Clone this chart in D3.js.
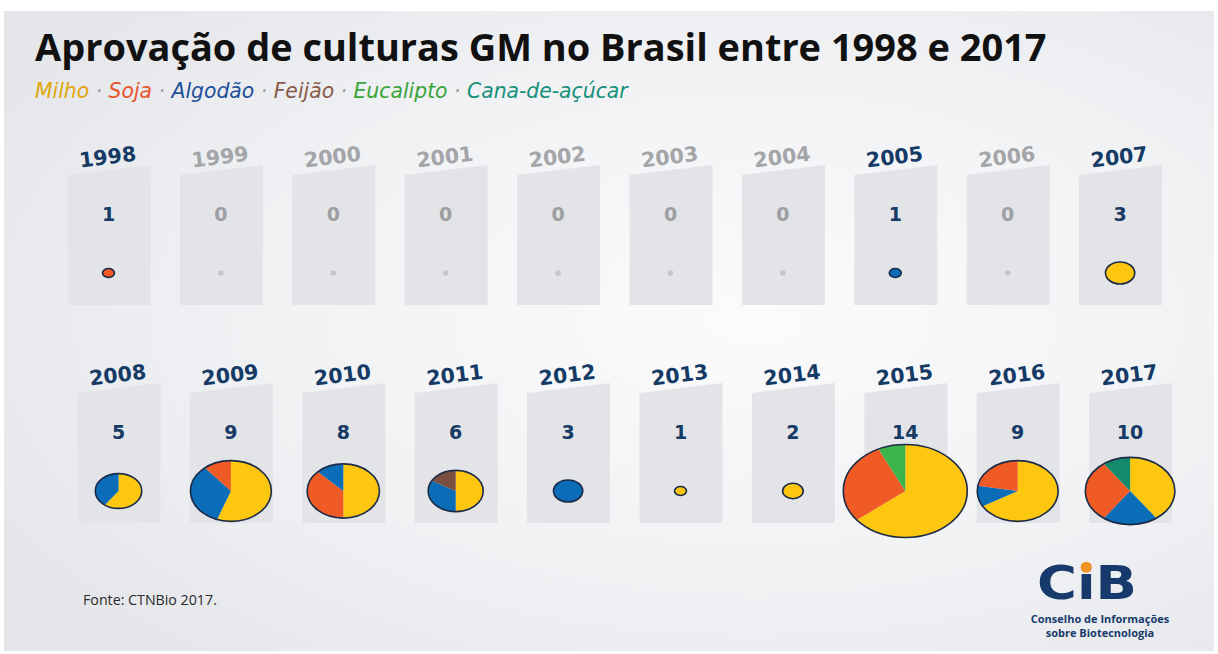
<!DOCTYPE html>
<html>
<head>
<meta charset="utf-8">
<script src="https://cdn.jsdelivr.net/npm/d3@7"></script>
<style>
  body { margin: 0; background: #ffffff; }
  svg { display: block; }
</style>
</head>
<body>
<div id="chart"></div>
<script>
// approvals per crop and per year (CTNBio)
var years = [1998, 1999, 2000, 2001, 2002, 2003, 2004, 2005, 2006, 2007,
             2008, 2009, 2010, 2011, 2012, 2013, 2014, 2015, 2016, 2017];
var milho     = [0, 0, 0, 0, 0, 0, 0, 0, 0, 3,  3, 5, 4, 3, 0, 1, 2, 9, 6, 4];
var soja      = [1, 0, 0, 0, 0, 0, 0, 0, 0, 0,  0, 1, 3, 0, 0, 0, 0, 4, 2, 3];
var algodao   = [0, 0, 0, 0, 0, 0, 0, 1, 0, 0,  2, 3, 1, 2, 3, 0, 0, 0, 1, 2];
var feijao    = [0, 0, 0, 0, 0, 0, 0, 0, 0, 0,  0, 0, 0, 1, 0, 0, 0, 0, 0, 0];
var eucalipto = [0, 0, 0, 0, 0, 0, 0, 0, 0, 0,  0, 0, 0, 0, 0, 0, 0, 1, 0, 0];
var cana      = [0, 0, 0, 0, 0, 0, 0, 0, 0, 0,  0, 0, 0, 0, 0, 0, 0, 0, 0, 1];

var cropNames = ["Milho", "Soja", "Algodão", "Feijão", "Eucalipto", "Cana-de-açúcar"];
var cropColors = ["#fdc70f", "#f05a24", "#0b6cb8", "#7b4f3f", "#3cb54a", "#138b6b"];
var legendColors = ["#e0a60a", "#e8532a", "#1d4f9a", "#8a5a48", "#3aa43a", "#17907a"];
// slice order, clockwise from 12 o'clock
var sliceOrder = ["Milho", "Algodão", "Soja", "Feijão", "Eucalipto", "Cana-de-açúcar"];
var sliceOrder2010 = ["Milho", "Soja", "Algodão"];

var cropValues = {
  "Milho": milho, "Soja": soja, "Algodão": algodao,
  "Feijão": feijao, "Eucalipto": eucalipto, "Cana-de-açúcar": cana
};

var svgWidth = 1218, svgHeight = 654;
var navy = "#153a66";
var grey = "#a3a5a8";

var svg = d3.select("#chart")
  .append("svg")
  .attr("width", svgWidth)
  .attr("height", svgHeight);

// background
var defs = svg.append("defs");
var grad = defs.append("radialGradient")
  .attr("id", "bg")
  .attr("cx", "62%").attr("cy", "48%").attr("r", "72%");
grad.append("stop").attr("offset", "0%").attr("stop-color", "#fbfbfc");
grad.append("stop").attr("offset", "55%").attr("stop-color", "#f1f2f4");
grad.append("stop").attr("offset", "100%").attr("stop-color", "#e4e6ea");

svg.append("rect")
  .attr("x", 4).attr("y", 11)
  .attr("width", svgWidth - 8).attr("height", svgHeight - 14)
  .attr("fill", "url(#bg)");

// fit text to a target width by font size
function fitWidth(sel, target) {
  var w = sel.node().getComputedTextLength();
  var fs = parseFloat(sel.attr("font-size"));
  sel.attr("font-size", (fs * target / w).toFixed(2));
}

// title
var title = svg.append("text")
  .attr("x", 35).attr("y", 61)
  .attr("font-family", "'Open Sans', sans-serif")
  .attr("font-weight", 700)
  .attr("font-size", 34)
  .attr("fill", "#111111")
  .text("Aprovação de culturas GM no Brasil entre 1998 e 2017");
fitWidth(title, 1012);

// legend line
var legend = svg.append("text")
  .attr("x", 35).attr("y", 98)
  .attr("font-family", "'DejaVu Sans', sans-serif")
  .attr("font-style", "italic")
  .attr("font-size", 16);
cropNames.forEach(function(name, i) {
  if (i > 0) {
    legend.append("tspan").attr("fill", "#9a9a9a").text(" · ");
  }
  legend.append("tspan").attr("fill", legendColors[i]).text(name);
});
fitWidth(legend, 593);

// build rows
var totals = years.map(function(y, i) {
  return d3.sum(cropNames, function(c) { return cropValues[c][i]; });
});

var rows = [
  { years: years.slice(0, 10), x0: 108.5, dy: 0 },
  { years: years.slice(10), x0: 118.5, dy: 218 }
];

var rScale = d3.scaleLinear().domain([1, 14]).range([6, 62]);
var ryRatio = 0.75;

var pie = d3.pie().sort(null).value(function(d) { return d.value; });
var arc = d3.arc().innerRadius(0);

var panelLayer = svg.append("g");
var textLayer = svg.append("g");
var pieLayer = svg.append("g");

rows.forEach(function(row) {
  var xScale = d3.scalePoint()
    .domain(row.years)
    .range([row.x0, row.x0 + 112.4 * 9]);

  row.years.forEach(function(yr) {
    var i = years.indexOf(yr);
    var cx = xScale(yr);
    var total = totals[i];
    var color = total > 0 ? navy : grey;

    // slanted panel
    var left = cx - 41, right = cx + 42;
    panelLayer.append("path")
      .attr("d", "M" + left + "," + (175 + row.dy) +
                 "L" + right + "," + (165 + row.dy) +
                 "L" + right + "," + (305 + row.dy) +
                 "L" + left + "," + (305 + row.dy) + "Z")
      .attr("fill", "#e3e4e7");

    // year label
    textLayer.append("text")
      .attr("transform", "translate(" + cx + "," + (164 + row.dy) + ") rotate(-7)")
      .attr("text-anchor", "middle")
      .attr("font-family", "'DejaVu Sans', sans-serif")
      .attr("font-weight", 700)
      .attr("font-size", 20.5)
      .attr("fill", color)
      .text(yr);

    // count
    textLayer.append("text")
      .attr("x", cx).attr("y", 221 + row.dy)
      .attr("text-anchor", "middle")
      .attr("font-family", "'DejaVu Sans', sans-serif")
      .attr("font-weight", 700)
      .attr("font-size", 19)
      .attr("fill", total > 0 ? navy : "#9d9fa2")
      .text(total);

    var cy = 273 + row.dy;
    if (total === 0) {
      pieLayer.append("circle")
        .attr("cx", cx).attr("cy", cy).attr("r", 2.8)
        .attr("fill", "#c4c6c9");
      return;
    }

    var order = yr === 2010 ? sliceOrder2010 : sliceOrder;
    var slices = order
      .map(function(c) {
        return { crop: c, value: cropValues[c][i] };
      })
      .filter(function(d) { return d.value > 0; });

    var rx = rScale(total);
    var g = pieLayer.append("g")
      .attr("transform", "translate(" + cx + "," + cy + ") scale(1," + ryRatio + ")");

    g.selectAll("path")
      .data(pie(slices))
      .enter()
      .append("path")
      .attr("d", arc.outerRadius(rx))
      .attr("fill", function(d) { return cropColors[cropNames.indexOf(d.data.crop)]; });

    g.append("circle")
      .attr("r", rx)
      .attr("fill", "none")
      .attr("stroke", "#1c2b48")
      .attr("stroke-width", 1.6)
      .attr("vector-effect", "non-scaling-stroke");
  });
});

// source
var source = svg.append("text")
  .attr("x", 83).attr("y", 605)
  .attr("font-family", "'Open Sans', sans-serif")
  .attr("font-size", 13)
  .attr("fill", "#2a2a2a")
  .text("Fonte: CTNBio 2017.");
fitWidth(source, 134);

// CiB logo
var logo = svg.append("text")
  .attr("x", 1087).attr("y", 599)
  .attr("text-anchor", "middle")
  .attr("font-family", "'DejaVu Sans', sans-serif")
  .attr("font-weight", 700)
  .attr("font-size", 46)
  .attr("textLength", 100)
  .attr("lengthAdjust", "spacingAndGlyphs")
  .attr("fill", "#163a6b")
  .text("CiB");
var iBox = logo.node().getExtentOfChar(1);
svg.append("circle")
  .attr("cx", iBox.x + iBox.width / 2)
  .attr("cy", 599 - 46 * 0.69)
  .attr("r", 5.5)
  .attr("fill", "#f39322");

svg.append("text")
  .attr("x", 1100).attr("y", 623)
  .attr("text-anchor", "middle")
  .attr("font-family", "'Open Sans', sans-serif")
  .attr("font-weight", 700)
  .attr("font-size", 11)
  .attr("fill", "#163a6b")
  .text("Conselho de Informações");
svg.append("text")
  .attr("x", 1100).attr("y", 637)
  .attr("text-anchor", "middle")
  .attr("font-family", "'Open Sans', sans-serif")
  .attr("font-weight", 700)
  .attr("font-size", 11)
  .attr("fill", "#163a6b")
  .text("sobre Biotecnologia");
</script>
</body>
</html>
